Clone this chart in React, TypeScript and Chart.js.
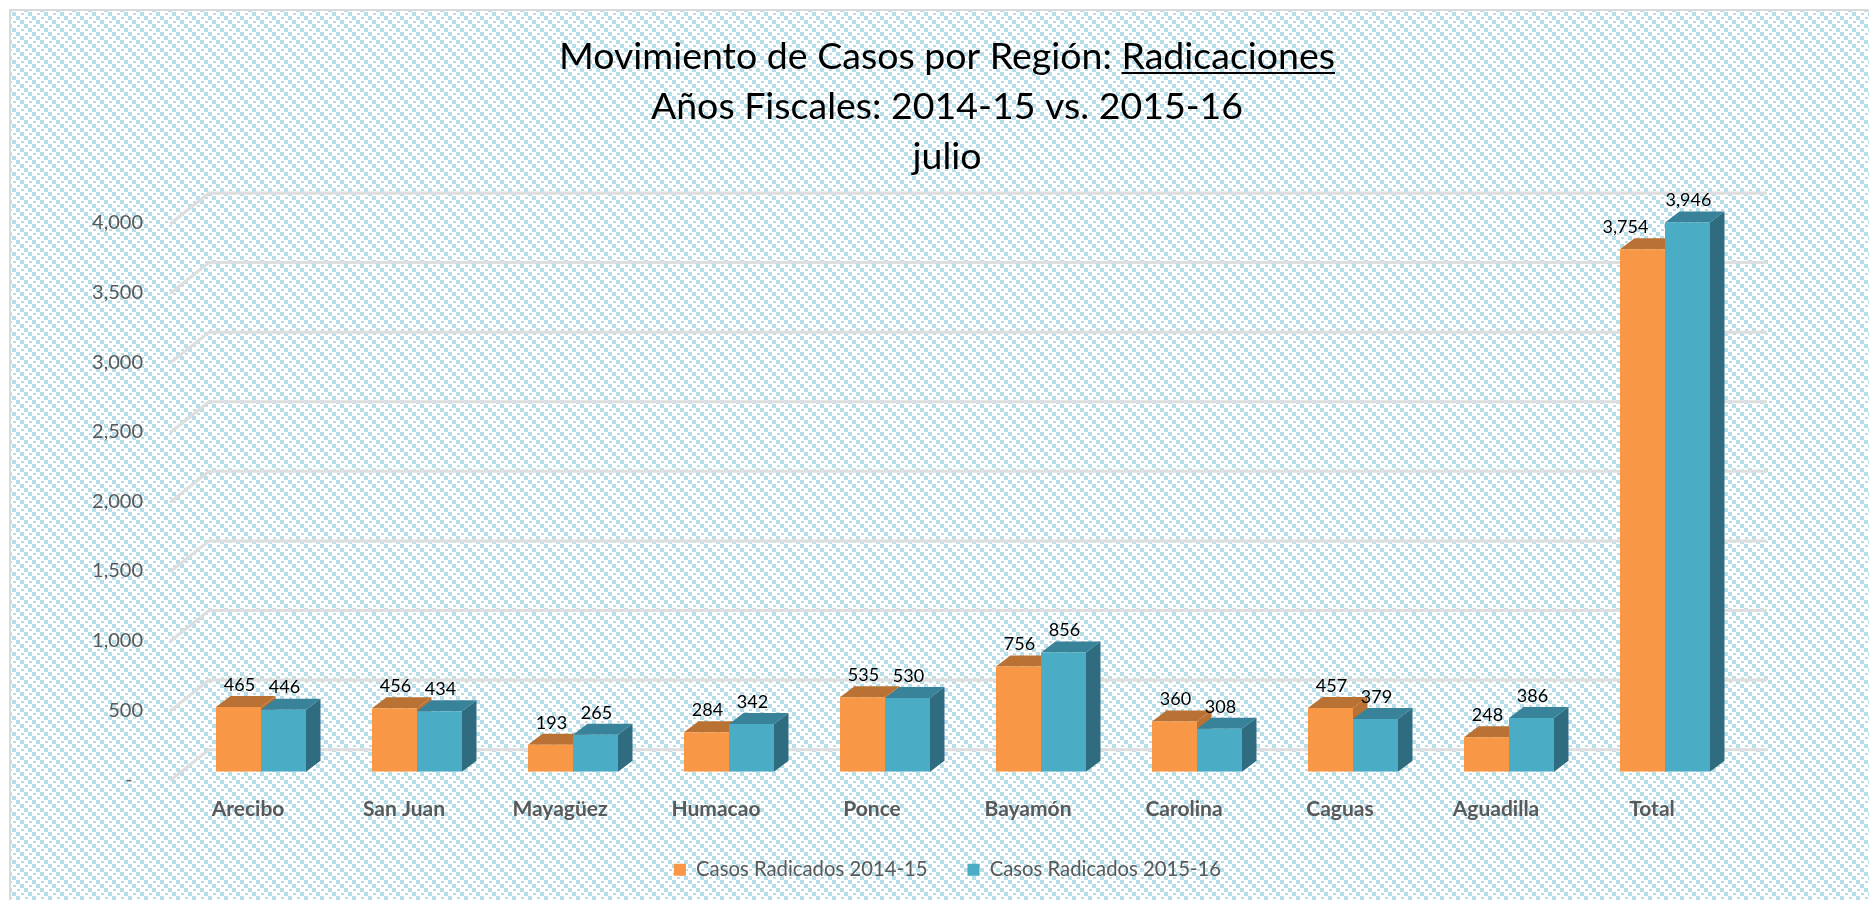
import React, { useEffect, useRef } from "react";
import { Chart, registerables } from "chart.js";

Chart.register(...registerables);

const categories = ["Arecibo", "San Juan", "Mayagüez", "Humacao", "Ponce", "Bayamón", "Carolina", "Caguas", "Aguadilla", "Total"];
const casos201415 = [465, 456, 193, 284, 535, 756, 360, 457, 248, 3754];
const casos201516 = [446, 434, 265, 342, 530, 856, 308, 379, 386, 3946];
const seriesNames = ["Casos Radicados 2014-15", "Casos Radicados 2015-16"];
const titleLines = ["Movimiento de Casos por Región: Radicaciones", "Años Fiscales: 2014-15 vs. 2015-16", "julio"];
const underlined = "Radicaciones";

const FONT = "Lato, Carlito, Calibri, 'Open Sans', sans-serif";
const FRONT = ["#F89746", "#4BACC6"];
const TOP = ["#B97234", "#38829A"];
const SIDE = ["#B97234", "#2F6C80"];
const DX = 14.5;
const DY = -11;
const TITLE_SIZE = 37.5;

function makePattern(ctx: CanvasRenderingContext2D) {
  const t = document.createElement("canvas");
  t.width = 16;
  t.height = 16;
  const c = t.getContext("2d")!;
  c.fillStyle = "#ffffff";
  c.fillRect(0, 0, 16, 16);
  c.fillStyle = "#B7DEE8";
  for (let j = 0; j < 4; j++) {
    for (let i = 0; i < 4; i++) {
      const k = ((i - j) % 4 + 4) % 4;
      if (k === 0) c.fillRect(i * 4, j * 4, 4, 4);
      if (k === 2) c.fillRect(i * 4 + 1, j * 4 + 1, 3, 2);
    }
  }
  return ctx.createPattern(t, "repeat")!;
}

const decor = {
  id: "decor",
  afterLayout(chart: any) {
    chart.titleBlock.left = 0;
    chart.titleBlock.right = 1894;
    const lg = chart.legend;
    lg.left = 0;
    lg.right = 1895;
    lg.top -= 10;
  },
  beforeDraw(chart: any) {
    const { ctx, width, height } = chart;
    ctx.save();
    ctx.fillStyle = "#ffffff";
    ctx.fillRect(0, 0, width, height);
    ctx.fillStyle = makePattern(ctx);
    ctx.fillRect(10, 10, width - 10, height - 10);
    ctx.fillStyle = "#D9D9D9";
    ctx.fillRect(9, 9, width - 9, 2);
    ctx.fillRect(9, 9, 2, height - 9);
    ctx.restore();
  },
  beforeDatasetsDraw(chart: any) {
    const { ctx } = chart;
    const y = chart.scales.y;
    ctx.save();
    ctx.strokeStyle = "#DEDEDE";
    ctx.lineWidth = 3;
    for (const t of y.ticks) {
      const p = y.getPixelForValue(t.value);
      ctx.beginPath();
      ctx.moveTo(170, p + 9);
      ctx.lineTo(209, p - 22);
      ctx.lineTo(1767, p - 22);
      ctx.stroke();
    }
    chart.data.datasets.forEach((_: any, d: number) => {
      chart.getDatasetMeta(d).data.forEach((bar: any) => {
        const { x, y: top, base, width } = bar.getProps(["x", "y", "base", "width"], true);
        const l = x - width / 2;
        const r = x + width / 2;
        ctx.fillStyle = SIDE[d];
        ctx.beginPath();
        ctx.moveTo(r, top);
        ctx.lineTo(r + DX, top + DY);
        ctx.lineTo(r + DX, base + DY);
        ctx.lineTo(r, base);
        ctx.closePath();
        ctx.fill();
        ctx.fillStyle = TOP[d];
        ctx.beginPath();
        ctx.moveTo(l, top);
        ctx.lineTo(l + DX, top + DY);
        ctx.lineTo(r + DX, top + DY);
        ctx.lineTo(r, top);
        ctx.closePath();
        ctx.fill();
      });
    });
    ctx.restore();
  },
  afterDatasetsDraw(chart: any) {
    const { ctx } = chart;
    ctx.save();
    ctx.fillStyle = "#000000";
    ctx.font = `18px ${FONT}`;
    ctx.textAlign = "center";
    ctx.textBaseline = "middle";
    chart.data.datasets.forEach((ds: any, d: number) => {
      chart.getDatasetMeta(d).data.forEach((bar: any, i: number) => {
        const { x, y: top } = bar.getProps(["x", "y"], true);
        const shift = d === 0 && chart.data.labels[i] === "Total" ? -17 : 1;
        ctx.fillText(ds.data[i].toLocaleString("en-US"), x + shift, top - 22);
      });
    });
    ctx.font = `${TITLE_SIZE}px ${FONT}`;
    const full = ctx.measureText(titleLines[0]).width;
    const word = ctx.measureText(underlined).width;
    const right = 947 + full / 2;
    ctx.fillStyle = "#000000";
    ctx.fillRect(right - word, 72, word, 2);
    ctx.restore();
  },
};

export default function App() {
  const ref = useRef<HTMLCanvasElement>(null);
  useEffect(() => {
    const chart = new Chart(ref.current!, {
      type: "bar",
      data: {
        labels: categories,
        datasets: [
          { label: seriesNames[0], data: casos201415, backgroundColor: FRONT[0], borderWidth: 0, barPercentage: 1, categoryPercentage: 0.577 },
          { label: seriesNames[1], data: casos201516, backgroundColor: FRONT[1], borderWidth: 0, barPercentage: 1, categoryPercentage: 0.577 },
        ],
      },
      plugins: [decor],
      options: {
        responsive: false,
        animation: false,
        events: [],
        layout: { padding: { left: 0, right: 126, top: 0, bottom: 0 } },
        plugins: {
          tooltip: { enabled: false },
          title: {
            display: true,
            text: titleLines,
            color: "#000000",
            font: { family: FONT, size: TITLE_SIZE, weight: "normal", lineHeight: 50 / TITLE_SIZE },
            padding: { top: 32, bottom: 33 },
          },
          legend: {
            display: true,
            position: "bottom",
            labels: { boxWidth: 12, boxHeight: 12, padding: 40, color: "#595959", font: { family: FONT, size: 20.3 } },
          },
        },
        scales: {
          x: {
            grid: { display: false },
            border: { display: false },
            ticks: {
              color: "#595959",
              padding: 17,
              labelOffset: -13,
              maxRotation: 0,
              autoSkip: false,
              font: { family: FONT, size: 21, weight: "bold" },
            },
            afterFit: (s: any) => {
              s.height = 58;
            },
          },
          y: {
            min: 0,
            max: 4000,
            grid: { display: false },
            border: { display: false },
            ticks: {
              stepSize: 500,
              color: "#595959",
              padding: 32,
              labelOffset: 8,
              font: { family: FONT, size: 20 },
              callback: (v: any) => (v === 0 ? "-  " : Number(v).toLocaleString("en-US")),
            },
            afterFit: (s: any) => {
              s.width = 183;
            },
          },
        },
      } as any,
    });
    return () => chart.destroy();
  }, []);
  return (
    <div style={{ position: "fixed", inset: 0, overflow: "hidden" }}>
      <canvas ref={ref} width={1869} height={900} style={{ display: "block" }} />
    </div>
  );
}
